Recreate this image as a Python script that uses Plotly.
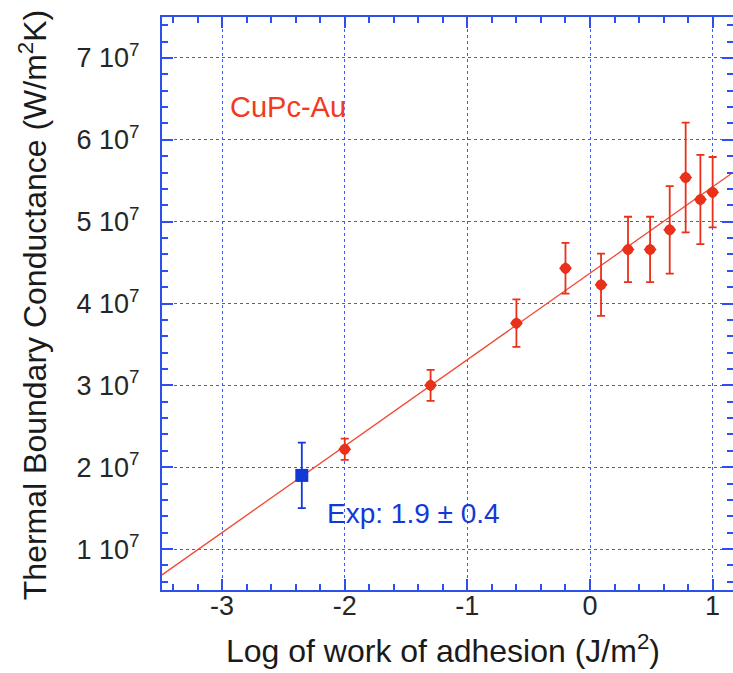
import plotly.graph_objects as go

# Simulated thermal boundary conductance vs. log work of adhesion (CuPc-Au)
log_wa = [-2.0, -1.3, -0.6, -0.2, 0.09, 0.31, 0.49, 0.65, 0.78, 0.90, 1.00]
tbc = [2.22e7, 3.00e7, 3.76e7, 4.43e7, 4.23e7, 4.66e7, 4.66e7, 4.90e7, 5.54e7, 5.27e7, 5.36e7]
tbc_err = [0.13e7, 0.19e7, 0.29e7, 0.31e7, 0.38e7, 0.40e7, 0.40e7, 0.535e7, 0.67e7, 0.545e7, 0.43e7]

# Experimental value
exp_x = [-2.35]
exp_y = [1.9e7]
exp_err = [0.4e7]

# Linear fit: G = intercept + slope * log(Wa)
fit_intercept = 4.37e7
fit_slope = 1.056e7

x_range = [-3.49, 1.166]
y_range = [0.5e7, 7.5e7]
y_tickvals = [1e7, 2e7, 3e7, 4e7, 5e7, 6e7, 7e7]
y_ticktext = [f"{int(v / 1e7)} 10<sup>7</sup>" for v in y_tickvals]
x_tickvals = [-3, -2, -1, 0, 1]
x_ticktext = ["-3", "-2", "-1", "0", "1"]

RED = "#e8301a"
LINE_RED = "#f04a35"
BLUE = "#1238d8"
AXIS_BLUE = "#2d4fee"
GRID_BLUE = "#3d5cf2"
FONT = "Liberation Sans, Arial, sans-serif"

fig = go.Figure()

fit_x = [x_range[0], x_range[1]]
fit_y = [fit_intercept + fit_slope * v for v in fit_x]
fig.add_trace(go.Scatter(
    x=fit_x, y=fit_y, mode="lines",
    line=dict(color=LINE_RED, width=1.3),
    hoverinfo="skip", showlegend=False,
))

fig.add_trace(go.Scatter(
    x=log_wa, y=tbc, mode="markers",
    marker=dict(symbol="circle", size=10.5, color=RED),
    error_y=dict(type="data", array=tbc_err, visible=True,
                 color=RED, thickness=1.8, width=4),
    showlegend=False,
))
fig.add_trace(go.Scatter(
    x=log_wa, y=tbc, mode="markers",
    marker=dict(symbol="diamond", size=10, color=RED),
    showlegend=False,
))

fig.add_trace(go.Scatter(
    x=exp_x, y=exp_y, mode="markers",
    marker=dict(symbol="square", size=13, color=BLUE),
    error_y=dict(type="data", array=exp_err, visible=True,
                 color=BLUE, thickness=1.8, width=4),
    showlegend=False,
))

fig.add_annotation(x=-2.95, y=6.40e7, text="CuPc-Au", showarrow=False,
                   xanchor="left", yanchor="middle",
                   font=dict(family=FONT, size=29, color="#f03a22"))
fig.add_annotation(x=-2.163, y=1.434e7, text="Exp: 1.9 ± 0.4", showarrow=False,
                   xanchor="left", yanchor="middle",
                   font=dict(family=FONT, size=28, color=BLUE))

# Axis titles placed as paper-anchored annotations
fig.add_annotation(xref="paper", yref="paper", x=0.492, y=-0.103,
                   text="Log of work of adhesion (J/m<sup>2</sup>)",
                   showarrow=False, xanchor="center", yanchor="middle",
                   font=dict(family=FONT, size=32, color="#1a1a1a"))
fig.add_annotation(xref="paper", yref="paper", x=-0.226, y=0.497,
                   text="Thermal Boundary Conductance (W/m<sup>2</sup>K)",
                   textangle=-90, showarrow=False,
                   xanchor="center", yanchor="middle",
                   font=dict(family=FONT, size=32, color="#1a1a1a"))

axis_common = dict(
    showline=True, linecolor=AXIS_BLUE, linewidth=2,
    mirror="ticks", ticks="inside", tickcolor=AXIS_BLUE, tickwidth=2,
    ticklen=11,
    showgrid=True, gridcolor=GRID_BLUE, gridwidth=1, griddash="dot",
    zeroline=False,
    tickfont=dict(family=FONT, size=27, color="#262626"),
)

fig.update_xaxes(
    range=x_range, tickmode="array", tickvals=x_tickvals, ticktext=x_ticktext,
    minor=dict(dtick=0.2, tick0=0, ticks="inside", ticklen=6,
               tickcolor=AXIS_BLUE, tickwidth=2, showgrid=False),
    ticklabelstandoff=-9,
    **axis_common,
)
fig.update_yaxes(
    range=y_range, tickmode="array", tickvals=y_tickvals, ticktext=y_ticktext,
    minor=dict(dtick=2e6, tick0=0, ticks="inside", ticklen=6,
               tickcolor=AXIS_BLUE, tickwidth=2, showgrid=False),
    ticklabelstandoff=15,
    **axis_common,
)

fig.update_layout(
    width=733, height=673,
    margin=dict(l=162, r=0, t=17, b=83, autoexpand=False),
    plot_bgcolor="white", paper_bgcolor="white",
    showlegend=False,
)

fig.write_html("out.html")
